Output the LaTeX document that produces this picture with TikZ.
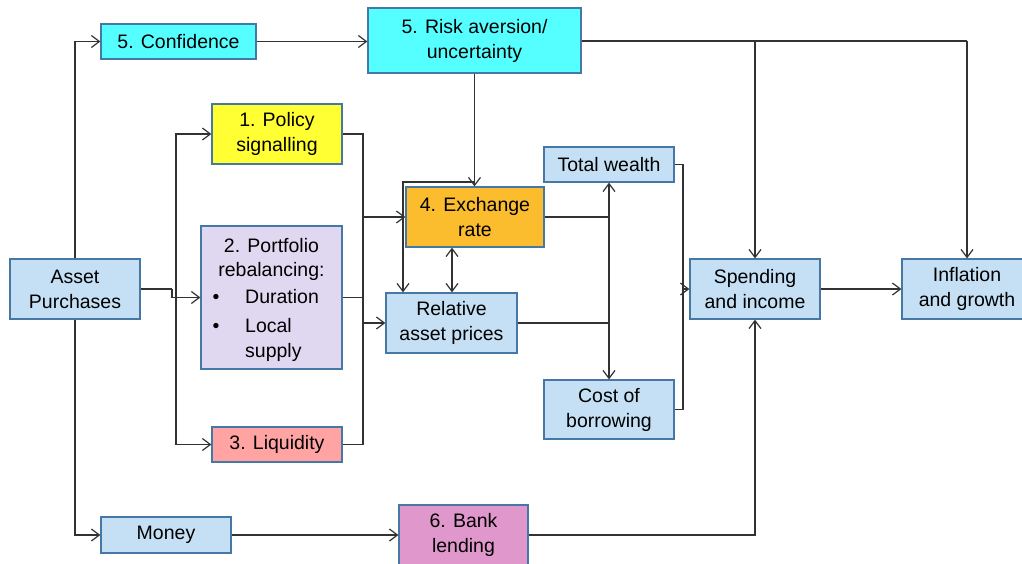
\documentclass[tikz,border=0pt]{standalone}
\usepackage{fontspec}
\setmainfont{Liberation Sans}
\usetikzlibrary{arrows.meta}
\definecolor{lblue}{RGB}{197,224,244}
\definecolor{bord}{RGB}{70,120,165}
\definecolor{cyanb}{RGB}{85,255,255}
\definecolor{yellowb}{RGB}{255,255,51}
\definecolor{lavb}{RGB}{224,216,240}
\definecolor{salb}{RGB}{255,163,163}
\definecolor{orab}{RGB}{251,188,45}
\definecolor{pinkb}{RGB}{224,152,204}
\definecolor{linec}{RGB}{50,50,50}
\begin{document}
\begin{tikzpicture}[x=1pt,y=-1pt,
  every node/.style={font=\fontsize{19.5}{25}\selectfont},
  box/.style={draw=bord, line width=1.2pt, fill=lblue, inner sep=0pt, align=center},
  txt/.style={inner sep=0pt, text height=14pt, text depth=4pt},
  conn/.style={draw=linec, line width=1.2pt},
  arr/.style={conn, -{Straight Barb[length=8pt,width=12pt]}},
  darr/.style={conn, {Straight Barb[length=8pt,width=12pt]}-{Straight Barb[length=8pt,width=12pt]}}]
\useasboundingbox (0,0) rectangle (1022,563);
% nodes
\node[box, fill=cyanb, minimum width=155pt, minimum height=35pt] (conf) at (178.5,41.5) {5. Confidence};
\node[box, fill=cyanb, minimum width=213pt, minimum height=65pt] (risk) at (474.5,40.5) {5. Risk aversion/\\uncertainty};
\node[box, fill=yellowb, minimum width=130pt, minimum height=60pt] (pol) at (277,134) {1. Policy\\signalling};
\node[box, fill=lavb, minimum width=141pt, minimum height=143pt] (port) at (271.5,297.5) {};
\node[txt] (pt1) at (271.5,247) {2. Portfolio};
\node[txt] (pt2) at (271.5,271) {rebalancing:};
\node[txt] (pb1) at (216,298) {•};
\node[txt, anchor=west] (pt3) at (245,298) {Duration};
\node[txt] (pb2) at (216,327) {•};
\node[txt, anchor=west] (pt4) at (245,327) {Local};
\node[txt, anchor=west] (pt5) at (245,352) {supply};
\node[box, fill=salb, minimum width=130pt, minimum height=35pt] (liq) at (277,444.5) {3. Liquidity};
\node[box, minimum width=130pt, minimum height=60pt] (ap) at (75,289) {Asset\\Purchases};
\node[box, fill=orab, minimum width=138pt, minimum height=60pt] (ex) at (475,217) {4. Exchange\\rate};
\node[box, minimum width=131pt, minimum height=60pt] (rel) at (451.5,323) {Relative\\asset prices};
\node[box, minimum width=130pt, minimum height=35pt] (tw) at (609,164.5) {Total wealth};
\node[box, minimum width=130pt, minimum height=59pt] (cob) at (609,409.5) {Cost of\\borrowing};
\node[box, minimum width=130pt, minimum height=60pt] (sp) at (755,289) {Spending\\and income};
\node[box, minimum width=130pt, minimum height=60pt] (inf) at (967,289) {Inflation\\and growth};
\node[box, minimum width=130pt, minimum height=36pt] (money) at (166,535) {Money};
\node[box, fill=pinkb, minimum width=129pt, minimum height=60pt] (bank) at (463.5,535) {6. Bank\\lending};
% coordinates
\coordinate (apj) at (172,289);
\coordinate (lbus) at (176,289);
\coordinate (rbt) at (363,134);
\coordinate (rbb) at (363,444.5);
\coordinate (rbe) at (363,217);
\coordinate (rbr) at (363,323);
\coordinate (rbp) at (363,297.5);
\coordinate (lpj) at (474.5,182);
\coordinate (lpx) at (403,182);
\coordinate (dx) at (452,0);
\coordinate (vw) at (609,270);
\coordinate (ej) at (609,217);
\coordinate (rj) at (609,323);
\coordinate (wt) at (683,164.5);
\coordinate (wb) at (683,409.5);
\coordinate (wm) at (683,289);
\coordinate (sj) at (755,41);
\coordinate (ij) at (967,41);
% connectors
\draw[arr] (ap.north) |- (conf.west);
\draw[arr] (ap.south) |- (money.west);
\draw[arr] (conf.east) -- (conf.east -| risk.west);
\draw[conn] (ap.east) -- (apj);
\draw[arr] (apj) |- (port.west);
\draw[arr] (lbus) |- (pol.west);
\draw[arr] (lbus) |- (liq.west);
\draw[conn] (pol.east) -- (rbt) -- (rbb) -- (liq.east);
\draw[conn] (port.east) -- (rbp);
\draw[arr] (rbe) -- (ex.west);
\draw[arr] (rbr) -- (rel.west);
\draw[arr] (risk.south) -- (risk.south |- ex.north);
\draw[arr] (lpj) -- (lpx) -- (lpx |- rel.north);
\draw[darr] (ex.south -| dx) -- (rel.north -| dx);
\draw[conn] (ex.east) -- (ej);
\draw[conn] (rel.east) -- (rj);
\draw[arr] (vw) -- (tw.south);
\draw[arr] (vw) -- (cob.north);
\draw[conn] (tw.east) -- (wt) -- (wb) -- (cob.east);
\draw[arr] (wm) -- (sp.west);
\draw[conn] (risk.east |- sj) -- (ij);
\draw[arr] (sj) -- (sp.north);
\draw[arr] (ij) -- (inf.north);
\draw[arr] (sp.east) -- (inf.west);
\draw[arr] (money.east) -- (bank.west);
\draw[arr] (bank.east) -| (sp.south);
\end{tikzpicture}
\end{document}
